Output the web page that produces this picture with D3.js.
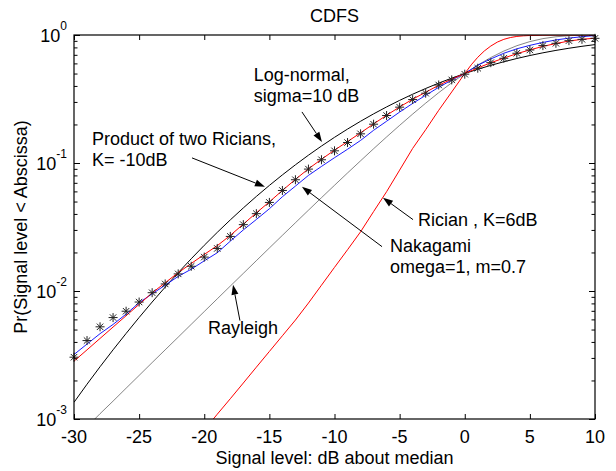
<!DOCTYPE html>
<html lang="en">
<head>
<meta charset="UTF-8">
<script src="https://d3js.org/d3.v7.min.js"></script>
<style>
  body { margin: 0; background: #fff; }
  svg text { font-family: "Liberation Sans", Arial, sans-serif; fill: #000; }
</style>
</head>
<body>
<div id="chart_area"></div>
<script>
// signal level, dB about median
var dB = [-30, -29, -28, -27, -26, -25, -24, -23, -22, -21, -20, -19, -18, -17, -16, -15,
          -14, -13, -12, -11, -10, -9, -8, -7, -6, -5, -4, -3, -2, -1, 0,
          1, 2, 3, 4, 5, 6, 7, 8, 9, 10];

// product of two Ricians, K=-10dB (asterisks)
var productStars = [0.00304, 0.0041, 0.00525, 0.0062, 0.00695, 0.0082, 0.0097, 0.01135, 0.0136, 0.0156,
                    0.0184, 0.0215, 0.0267, 0.033, 0.0402, 0.0492, 0.061, 0.074, 0.0896, 0.106,
                    0.1245, 0.1445, 0.169, 0.201, 0.235, 0.273, 0.313, 0.351, 0.407, 0.446,
                    0.494, 0.55, 0.608, 0.658, 0.72, 0.764, 0.826, 0.861, 0.903, 0.925, 0.942];
// product of two Ricians, red line
var productLine = [0.00283, 0.00347, 0.00426, 0.00523, 0.00641, 0.00787, 0.00966, 0.0116, 0.0139, 0.0164,
                   0.0193, 0.0226, 0.0272, 0.0333, 0.0408, 0.0497, 0.061, 0.0745, 0.09, 0.107,
                   0.126, 0.147, 0.172, 0.202, 0.236, 0.274, 0.315, 0.357, 0.405, 0.452,
                   0.5, 0.553, 0.607, 0.66, 0.715, 0.765, 0.815, 0.858, 0.897, 0.925, 0.945];
// Nakagami omega=1, m=0.7
var nakagami = [0.00319, 0.00385, 0.00464, 0.00548, 0.0066, 0.0081, 0.0095, 0.0111, 0.013, 0.0148,
                0.0172, 0.0199, 0.0245, 0.03, 0.0362, 0.0439, 0.0545, 0.066, 0.08, 0.094,
                0.11, 0.128, 0.15, 0.18, 0.212, 0.25, 0.292, 0.338, 0.39, 0.445,
                0.5, 0.58, 0.65, 0.72, 0.78, 0.83, 0.875, 0.915, 0.945, 0.97, 0.99];
// log-normal, sigma=10 dB
var logNormal = [0.00135, 0.00187, 0.00256, 0.00347, 0.00466, 0.00621, 0.0082, 0.01072, 0.0139, 0.01786,
                 0.02275, 0.02872, 0.03593, 0.04457, 0.0548, 0.06681, 0.08076, 0.0968, 0.11507, 0.13567,
                 0.15866, 0.18406, 0.21186, 0.24196, 0.27425, 0.30854, 0.34458, 0.38209, 0.42074, 0.46017,
                 0.5, 0.53983, 0.57926, 0.61791, 0.65542, 0.69146, 0.72575, 0.75804, 0.78814, 0.81594, 0.84134];
// Rayleigh
var rayleigh = [0.00087, 0.00087, 0.0011, 0.00138, 0.00174, 0.00219, 0.00276, 0.00347, 0.00436, 0.00549,
                0.00691, 0.00869, 0.01093, 0.01373, 0.01726, 0.02168, 0.02722, 0.03414, 0.04279, 0.05357,
                0.06697, 0.08356, 0.104, 0.1292, 0.1598, 0.1968, 0.2411, 0.2935, 0.3543, 0.4234,
                0.5, 0.5821, 0.6667, 0.7492, 0.8247, 0.8883, 0.9367, 0.969, 0.9874, 0.9959, 0.999];

// Rician K=6dB, own abscissa
var ricianDb = [-20, -19, -18, -17, -16, -15, -14, -13, -12, -11, -10, -9, -8, -7, -6, -5, -4, -3, -2, -1,
                0, 0.5, 1, 1.5, 2, 2.5, 3, 3.5, 4, 4.5, 5, 6, 7, 8, 9, 10];
var rician = [0.00082, 0.00109, 0.00144, 0.00191, 0.00254, 0.00337, 0.00447, 0.00593, 0.00805, 0.0111,
              0.0153, 0.021, 0.029, 0.0417, 0.0597, 0.088, 0.13, 0.182, 0.258, 0.359,
              0.5, 0.585, 0.67, 0.75, 0.82, 0.88, 0.925, 0.955, 0.975, 0.985, 0.991, 0.996, 0.998, 0.999, 1.0, 1.0];

var xTicks = [-30, -25, -20, -15, -10, -5, 0, 5, 10];
var yMajor = [1e-3, 1e-2, 1e-1, 1];
var yExp = ["-3", "-2", "-1", "0"];

// labels with arrows, positions in data units
var noteLines = [["Log-normal,", "sigma=10 dB"], ["Product of two Ricians,", "K= -10dB"],
                 ["Rician , K=6dB"], ["Nakagami", "omega=1, m=0.7"], ["Rayleigh"]];
var noteAt = [[-16.2, 0.4375], [-28.62, 0.1387], [-3.59, 0.0324], [-5.74, 0.0203], [-19.71, 0.00465]];
var arrowFrom = [[-12.5, 0.2506], [-20.94, 0.1096], [-3.97, 0.0361], [-6.35, 0.0222], [-17.26, 0.00587]];
var arrowTo = [[-10.96, 0.1462], [-15.34, 0.0652], [-6.28, 0.0535], [-12.5, 0.0652], [-17.79, 0.0112]];

var W = 616, H = 471;
var plotL = 74, plotR = 595, plotT = 35, plotB = 419;

var svg = d3.select("#chart_area").append("svg")
    .attr("width", W).attr("height", H);

var x = d3.scaleLinear().domain([-30, 10]).range([plotL, plotR]);
var y = d3.scaleLog().domain([1e-3, 1]).range([plotB, plotT]);

var yMinor = [];
yMajor.slice(0, 3).forEach(function (d) {
  for (var k = 2; k <= 9; k++) yMinor.push(d * k);
});

svg.append("clipPath").attr("id", "clip")
  .append("rect").attr("x", plotL).attr("y", plotT)
  .attr("width", plotR - plotL).attr("height", plotB - plotT);

// ticks, pointing inward on all four sides
function ticks(axis, tx, ty) {
  var g = svg.append("g").attr("transform", "translate(" + tx + "," + ty + ")").call(axis);
  g.select(".domain").remove();
  g.selectAll("text").remove();
  g.selectAll("line").attr("stroke", "#000");
}
ticks(d3.axisBottom(x).tickValues(xTicks).tickSize(-5), 0, plotB);
ticks(d3.axisTop(x).tickValues(xTicks).tickSize(-5), 0, plotT);
ticks(d3.axisLeft(y).tickValues(yMajor).tickSize(-6), plotL, 0);
ticks(d3.axisLeft(y).tickValues(yMinor).tickSize(-3.5), plotL, 0);
ticks(d3.axisRight(y).tickValues(yMajor).tickSize(-6), plotR, 0);
ticks(d3.axisRight(y).tickValues(yMinor).tickSize(-3.5), plotR, 0);

// tick labels
svg.selectAll(".xlab").data(xTicks).enter().append("text")
  .attr("x", function (d) { return x(d); })
  .attr("y", plotB + 24)
  .attr("text-anchor", "middle")
  .style("font-size", "18px")
  .text(function (d) { return d; });

var yl = svg.selectAll(".ylab").data(yMajor).enter().append("text")
  .attr("x", plotL - 7)
  .attr("y", function (d) { return y(d) + 7; })
  .attr("text-anchor", "end")
  .style("font-size", "18px");
yl.append("tspan").text("10");
yl.append("tspan").attr("dy", -12).style("font-size", "12px")
  .text(function (d, i) { return yExp[i]; });

// curves
var plot = svg.append("g").attr("clip-path", "url(#clip)");

function curve(xs, vals, color, width) {
  var line = d3.line()
    .x(function (d, i) { return x(xs[i]); })
    .y(function (d) { return y(Math.max(d, 1e-4)); });
  plot.append("path").datum(vals)
    .attr("d", line)
    .attr("fill", "none")
    .attr("stroke", color)
    .attr("stroke-width", width);
}

curve(dB, rayleigh, "#333", 0.6);
curve(dB, logNormal, "#000", 1);
curve(dB, nakagami, "#0000ff", 0.9);
curve(dB, productLine, "#ff0000", 1);
curve(ricianDb, rician, "#ff0000", 1);

// asterisk markers
var r = 4.5, q = 3.2;
var star = "M0," + (-r) + "L0," + r + "M" + (-r) + ",0L" + r + ",0" +
           "M" + (-q) + "," + (-q) + "L" + q + "," + q + "M" + (-q) + "," + q + "L" + q + "," + (-q);
svg.append("g").selectAll(".star").data(productStars).enter().append("path")
  .attr("d", star)
  .attr("transform", function (d, i) { return "translate(" + x(dB[i]) + "," + y(d) + ")"; })
  .attr("fill", "none")
  .attr("stroke", "#222")
  .attr("stroke-width", 1);

// frame
svg.append("rect")
  .attr("x", plotL).attr("y", plotT)
  .attr("width", plotR - plotL).attr("height", plotB - plotT)
  .attr("fill", "none").attr("stroke", "#000").attr("stroke-width", 1.2);

// annotations
noteLines.forEach(function (lines, i) {
  var t = svg.append("text")
    .attr("x", x(noteAt[i][0]))
    .attr("y", y(noteAt[i][1]))
    .style("font-size", "18px");
  lines.forEach(function (s, j) {
    t.append("tspan").attr("x", x(noteAt[i][0])).attr("dy", j === 0 ? 0 : 21).text(s);
  });

  var x0 = x(arrowFrom[i][0]), y0 = y(arrowFrom[i][1]);
  var x1 = x(arrowTo[i][0]), y1 = y(arrowTo[i][1]);
  var a = Math.atan2(y1 - y0, x1 - x0);
  var len = 10, hw = 3.5;
  var bx = x1 - len * Math.cos(a), by = y1 - len * Math.sin(a);
  svg.append("line")
    .attr("x1", x0).attr("y1", y0).attr("x2", bx).attr("y2", by)
    .attr("stroke", "#000").attr("stroke-width", 1);
  svg.append("path")
    .attr("d", "M" + x1 + "," + y1 +
               "L" + (bx + hw * Math.sin(a)) + "," + (by - hw * Math.cos(a)) +
               "L" + (bx - hw * Math.sin(a)) + "," + (by + hw * Math.cos(a)) + "Z")
    .attr("fill", "#000");
});

// titles
svg.append("text")
  .attr("x", (plotL + plotR) / 2).attr("y", 22)
  .attr("text-anchor", "middle")
  .style("font-size", "18px")
  .text("CDFS");

svg.append("text")
  .attr("x", (plotL + plotR) / 2).attr("y", 464)
  .attr("text-anchor", "middle")
  .style("font-size", "18px")
  .text("Signal level: dB about median");

svg.append("text")
  .attr("transform", "translate(27," + (plotT + plotB) / 2 + ") rotate(-90)")
  .attr("text-anchor", "middle")
  .style("font-size", "18px")
  .text("Pr(Signal level < Abscissa)");
</script>
</body>
</html>
